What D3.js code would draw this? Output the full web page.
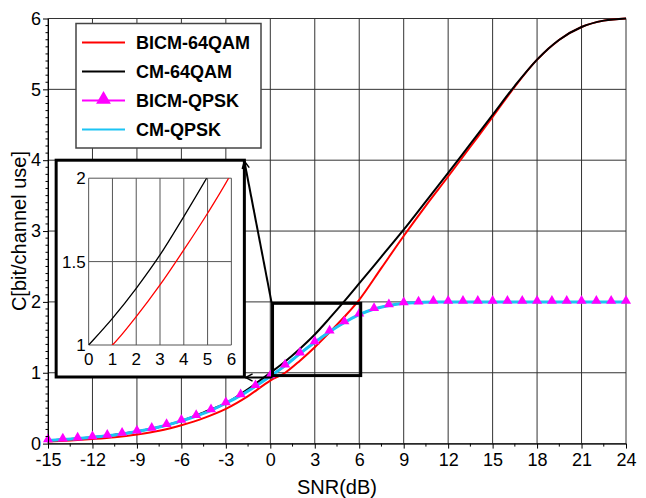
<!DOCTYPE html>
<html>
<head>
<meta charset="utf-8">
<script src="https://cdn.jsdelivr.net/npm/d3@7"></script>
<style>
  body { margin: 0; background: #fff; }
  svg { display: block; }
  text { font-family: "Liberation Sans", Arial, sans-serif; fill: #000; }
</style>
</head>
<body>
<div id="chart"></div>
<script>
// Courbes 64QAM
const snr64 = [-15, -13.5, -12, -10.5, -9, -7.5, -6, -4.5, -3, -1.5, 0, 1, 2, 3, 4, 5, 6, 7.5, 9, 10.5, 12, 13.5, 15, 16.5, 18, 19.5, 21, 22.5, 24];
const bicm64 = [0.03, 0.045, 0.065, 0.09, 0.128, 0.18, 0.26, 0.36, 0.49, 0.67, 0.89, 1.0, 1.17, 1.36, 1.57, 1.79, 2.03, 2.48, 2.93, 3.36, 3.77, 4.19, 4.61, 5.04, 5.42, 5.7, 5.88, 5.97, 6.0];
const cm64 = [0.045, 0.064, 0.089, 0.125, 0.17, 0.235, 0.32, 0.44, 0.57, 0.77, 1.0, 1.16, 1.34, 1.54, 1.77, 2.01, 2.26, 2.64, 3.02, 3.42, 3.82, 4.23, 4.64, 5.05, 5.42, 5.7, 5.88, 5.97, 6.0];

// Courbes QPSK, un point par dB
const snrQpsk = [-15, -14, -13, -12, -11, -10, -9, -8, -7, -6, -5, -4, -3, -2, -1, 0, 1, 2, 3, 4, 5, 6, 7, 8, 9, 10, 11, 12, 13, 14, 15, 16, 17, 18, 19, 20, 21, 22, 23, 24];
const cmQpsk = [0.045, 0.057, 0.071, 0.089, 0.11, 0.137, 0.17, 0.21, 0.26, 0.32, 0.39, 0.47, 0.57, 0.68, 0.81, 0.95, 1.1, 1.27, 1.43, 1.58, 1.71, 1.82, 1.9, 1.95, 1.98, 1.99, 2, 2, 2, 2, 2, 2, 2, 2, 2, 2, 2, 2, 2, 2];
const bicmQpsk = [0.045, 0.057, 0.071, 0.089, 0.11, 0.137, 0.17, 0.21, 0.26, 0.32, 0.39, 0.47, 0.57, 0.68, 0.81, 0.95, 1.1, 1.27, 1.43, 1.58, 1.71, 1.82, 1.9, 1.95, 1.98, 1.99, 2, 2, 2, 2, 2, 2, 2, 2, 2, 2, 2, 2, 2, 2];

// Graduations
const xTicks = [-15, -12, -9, -6, -3, 0, 3, 6, 9, 12, 15, 18, 21, 24];
const xLabels = ["-15", "-12", "-9", "-6", "-3", "0", "3", "6", "9", "12", "15", "18", "21", "24"];
const yTicks = [0, 1, 2, 3, 4, 5, 6];
const yLabels = ["0", "1", "2", "3", "4", "5", "6"];
const insetXTicks = [0, 1, 2, 3, 4, 5, 6];
const insetYTicks = [1, 1.5, 2];
const insetYLabels = ["1", "1.5", "2"];

const legendNames = ["BICM-64QAM", "CM-64QAM", "BICM-QPSK", "CM-QPSK"];
const xTitle = "SNR(dB)";
const yTitle = "C[bit/channel use]";

const colRed = "#ff0000", colBlack = "#000000", colMag = "#ff00ff", colCyan = "#1cc4f4";
const FONT = "'Liberation Sans', Arial, sans-serif";

const W = 646, H = 498;
const margin = { top: 18.5, right: 20, bottom: 54.4, left: 48 };

const svg = d3.select("#chart").append("svg").attr("width", W).attr("height", H);

const x = d3.scaleLinear().domain([-15, 24]).range([margin.left, W - margin.right]);
const y = d3.scaleLinear().domain([0, 6]).range([H - margin.bottom, margin.top]);

svg.append("clipPath").attr("id", "clipMain").append("rect")
    .attr("x", x(-15)).attr("y", y(6) - 2).attr("width", x(24) - x(-15)).attr("height", y(0) - y(6) + 4);

// Grille
const grid = svg.append("g");
grid.selectAll(".gx").data(xTicks).enter().append("line")
    .attr("x1", d => x(d)).attr("x2", d => x(d)).attr("y1", y(0)).attr("y2", y(6))
    .attr("stroke", "#333").attr("stroke-width", 1);
grid.selectAll(".gy").data(yTicks).enter().append("line")
    .attr("x1", x(-15)).attr("x2", x(24)).attr("y1", d => y(d)).attr("y2", d => y(d))
    .attr("stroke", "#333").attr("stroke-width", 1);

// Courbes principales
const line = d3.line().x(d => x(d[0])).y(d => y(d[1])).curve(d3.curveMonotoneX);
const curves = svg.append("g").attr("clip-path", "url(#clipMain)");
curves.append("path").attr("d", line(d3.zip(snr64, bicm64)))
    .attr("fill", "none").attr("stroke", colRed).attr("stroke-width", 2);
curves.append("path").attr("d", line(d3.zip(snr64, cm64)))
    .attr("fill", "none").attr("stroke", colBlack).attr("stroke-width", 2);
curves.append("path").attr("d", line(d3.zip(snrQpsk, bicmQpsk)))
    .attr("fill", "none").attr("stroke", colMag).attr("stroke-width", 2);
curves.append("path").attr("d", line(d3.zip(snrQpsk, cmQpsk)))
    .attr("fill", "none").attr("stroke", colCyan).attr("stroke-width", 3);

const tri = d3.symbol().type(d3.symbolTriangle).size(44);
svg.append("g").selectAll("path").data(d3.zip(snrQpsk, bicmQpsk)).enter().append("path")
    .attr("d", tri)
    .attr("transform", d => `translate(${x(d[0])},${y(d[1]) - 1})`)
    .attr("fill", colMag);

// Axes
const xAxis = d3.axisBottom(x).tickValues(xTicks).tickSize(5).tickPadding(5).tickSizeOuter(0)
    .tickFormat((d, i) => xLabels[i]);
const gx = svg.append("g").attr("transform", `translate(0,${y(0)})`).call(xAxis);
gx.attr("font-size", null).attr("font-family", null);
gx.select(".domain").attr("stroke", "#000");
gx.selectAll("text").style("font-size", "18px").style("font-family", FONT);

const xMinor = d3.pairs(xTicks).map(p => (p[0] + p[1]) / 2);
svg.append("g").selectAll("line").data(xMinor).enter().append("line")
    .attr("x1", d => x(d)).attr("x2", d => x(d)).attr("y1", y(0)).attr("y2", y(0) + 3)
    .attr("stroke", "#000");

const yAxis = d3.axisLeft(y).tickValues(yTicks).tickSize(5).tickPadding(2).tickSizeOuter(0)
    .tickFormat((d, i) => yLabels[i]);
const gy = svg.append("g").attr("transform", `translate(${x(-15)},0)`).call(yAxis);
gy.attr("font-size", null).attr("font-family", null);
gy.select(".domain").attr("stroke", "#000");
gy.selectAll("text").style("font-size", "18px").style("font-family", FONT);

const yMinor = y.ticks(60).filter(v => !yTicks.includes(v));
svg.append("g").selectAll("line").data(yMinor).enter().append("line")
    .attr("x1", x(-15) - 2.5).attr("x2", x(-15)).attr("y1", d => y(d)).attr("y2", d => y(d))
    .attr("stroke", "#000").attr("stroke-width", 1);

// Titres des axes
svg.append("text").attr("x", (x(-15) + x(24)) / 2).attr("y", 494)
    .attr("text-anchor", "middle").style("font-size", "20px").text(xTitle);
svg.append("text").attr("transform", `translate(26,${(y(0) + y(6)) / 2}) rotate(-90)`)
    .attr("text-anchor", "middle").style("font-size", "20px").text(yTitle);

// Légende
const leg = svg.append("g");
leg.append("rect").attr("x", 76).attr("y", 23.5).attr("width", 185).attr("height", 124.5)
    .attr("fill", "#fff").attr("stroke", "#444").attr("stroke-width", 1.5);
const legColors = [colRed, colBlack, colMag, colCyan];
legendNames.forEach((name, i) => {
    const ly = 42.5 + i * 29;
    leg.append("line").attr("x1", 82).attr("x2", 125).attr("y1", ly).attr("y2", ly)
        .attr("stroke", legColors[i]).attr("stroke-width", 2);
    if (i === 2) {
        leg.append("path").attr("d", d3.symbol().type(d3.symbolTriangle).size(95)())
            .attr("transform", `translate(103.5,${ly - 1})`).attr("fill", colMag);
    }
    leg.append("text").attr("x", 136).attr("y", ly + 6.5)
        .style("font-size", "18px").attr("font-weight", "bold").text(name);
});

// Encart (zoom sur 0-6 dB)
const ix0 = x(-14.45), ix1 = x(-1.75), iy0 = y(4.0), iy1 = y(0.94);
const inset = svg.append("g");
inset.append("rect").attr("x", ix0).attr("y", iy0).attr("width", ix1 - ix0).attr("height", iy1 - iy0)
    .attr("fill", "#fff").attr("stroke", "#000").attr("stroke-width", 3);

const sx = d3.scaleLinear().domain([0, 6]).range([ix0 + 32.5, ix1 - 13]);
const sy = d3.scaleLinear().domain([1, 2]).range([iy1 - 32, iy0 + 18]);

svg.append("clipPath").attr("id", "clipInset").append("rect")
    .attr("x", sx(0)).attr("y", sy(2)).attr("width", sx(6) - sx(0)).attr("height", sy(1) - sy(2));

inset.selectAll(".igx").data(insetXTicks).enter().append("line")
    .attr("x1", d => sx(d)).attr("x2", d => sx(d)).attr("y1", sy(1)).attr("y2", sy(2))
    .attr("stroke", "#555").attr("stroke-width", 1);
inset.selectAll(".igy").data(insetYTicks).enter().append("line")
    .attr("x1", sx(0)).attr("x2", sx(6)).attr("y1", d => sy(d)).attr("y2", d => sy(d))
    .attr("stroke", "#555").attr("stroke-width", 1);

const iline = d3.line().x(d => sx(d[0])).y(d => sy(d[1])).curve(d3.curveMonotoneX);
const icurves = inset.append("g").attr("clip-path", "url(#clipInset)");
icurves.append("path").attr("d", iline(d3.zip(snr64, cm64)))
    .attr("fill", "none").attr("stroke", colBlack).attr("stroke-width", 1.3);
icurves.append("path").attr("d", iline(d3.zip(snr64, bicm64)))
    .attr("fill", "none").attr("stroke", colRed).attr("stroke-width", 1.3);

inset.selectAll(".ixl").data(insetXTicks).enter().append("text")
    .attr("x", d => sx(d)).attr("y", sy(1) + 20).attr("text-anchor", "middle")
    .style("font-size", "17px").text(d => d);
inset.selectAll(".iyl").data(insetYTicks).enter().append("text")
    .attr("x", sx(0) - 3).attr("y", d => sy(d)).attr("dy", "0.36em").attr("text-anchor", "end")
    .style("font-size", "17px").text((d, i) => insetYLabels[i]);

// Cadre de zoom et flèches
const bx0 = x(0.15), bx1 = x(6.1), by0 = y(1.98), by1 = y(0.96);
svg.append("rect").attr("x", bx0).attr("y", by0).attr("width", bx1 - bx0).attr("height", by1 - by0)
    .attr("fill", "none").attr("stroke", "#000").attr("stroke-width", 3);

svg.append("defs").append("marker").attr("id", "chev")
    .attr("viewBox", "0 0 10 10").attr("refX", 9).attr("refY", 5)
    .attr("markerWidth", 9).attr("markerHeight", 9).attr("markerUnits", "userSpaceOnUse")
    .attr("orient", "auto")
    .append("path").attr("d", "M1,1 L9,5 L1,9").attr("fill", "none").attr("stroke", "#000").attr("stroke-width", 1.6);

svg.append("line").attr("x1", bx0 - 1).attr("y1", by0 - 1).attr("x2", ix1).attr("y2", iy0 + 1)
    .attr("stroke", "#000").attr("stroke-width", 2).attr("marker-end", "url(#chev)");
svg.append("line").attr("x1", bx0).attr("y1", iy1 + 0.5).attr("x2", ix1 + 1).attr("y2", iy1 + 0.5)
    .attr("stroke", "#000").attr("stroke-width", 2).attr("marker-end", "url(#chev)");
</script>
</body>
</html>
